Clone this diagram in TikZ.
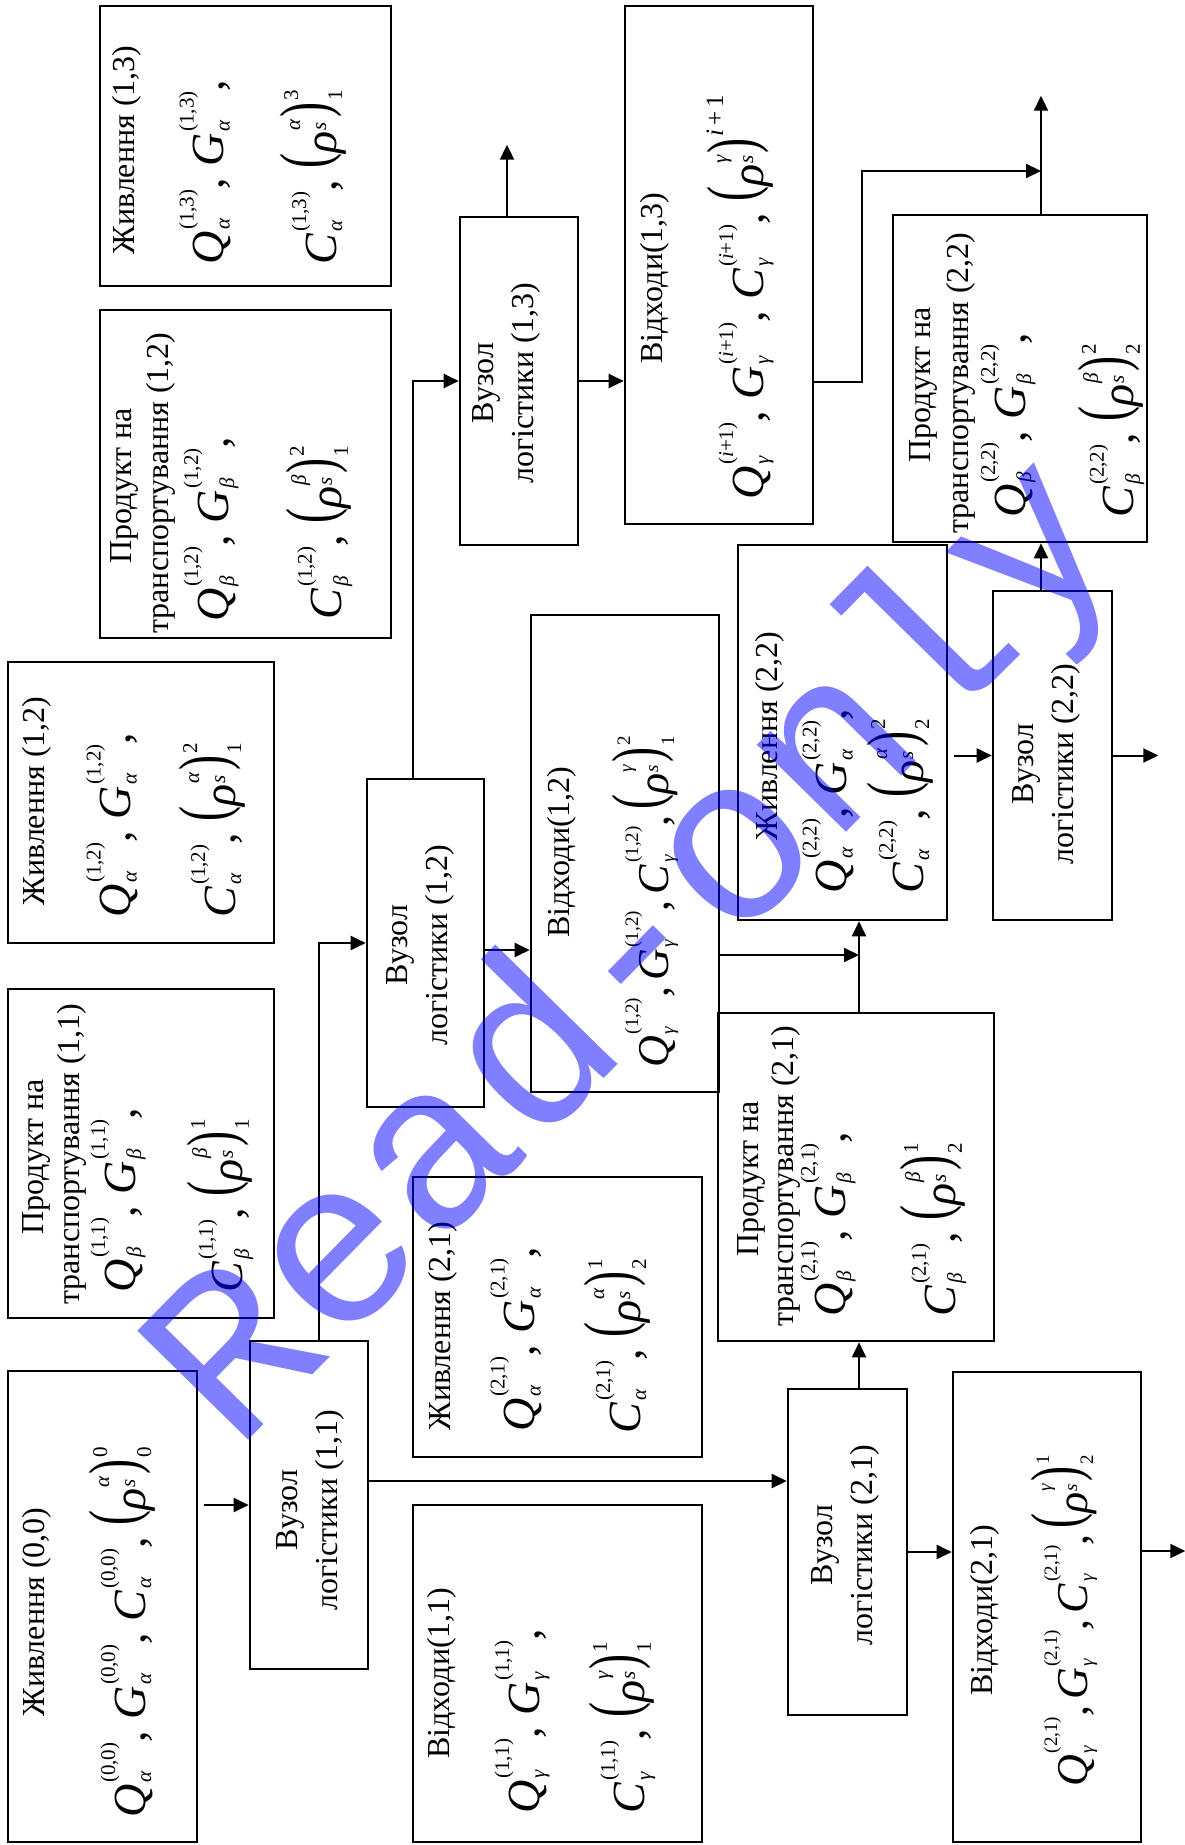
\documentclass[tikz,border=0pt]{standalone}
\usepackage{fontspec}
\setmainfont{Liberation Serif}
\newfontfamily\wmfont{Liberation Mono}
\usetikzlibrary{arrows.meta,fit}
\newcommand\szsize{10.5}
\newcommand\sep{,\ }
\newcommand\sz{\fontsize{\szsize}{\szsize}\selectfont}
\newcommand\mvar[3]{\textit{#1}\kern0.8pt\rlap{\raisebox{-3pt}{\sz\itshape #2}}\raisebox{15pt}{\sz #3}}
\newcommand\mylp{\raisebox{4.3pt}{\resizebox*{7.5pt}{31pt}{(}}}
\newcommand\myrp{\raisebox{4.3pt}{\resizebox*{7.5pt}{31pt}{)}}}
\newcommand\rhocore[1]{\mylp\textit{ρ}\kern0.5pt\rlap{\raisebox{5pt}{\sz\itshape s}}\raisebox{18pt}{\sz\itshape #1}\kern1pt\myrp\kern1pt}
\newcommand\mrho[3]{\rhocore{#1}\rlap{\raisebox{19pt}{\sz #2}}\raisebox{-3pt}{\sz #3}}
\begin{document}
\begin{tikzpicture}[x=0.5pt,y=-0.5pt,
  box/.style={draw, line width=1.3pt, inner sep=0pt},
  arr/.style={line width=1pt, -{Triangle[length=7.5pt,width=7pt]}},
  ttl/.style={rotate=90, inner sep=0pt, font=\fontsize{16}{20}\selectfont, align=center},
  mth/.style={rotate=90, inner sep=0pt, anchor=west, font=\fontsize{23}{27}\selectfont},
  tight/.style={font=\fontsize{22}{26}\selectfont\def\szsize{9.5}\def\sep{,\kern3pt}},
  wmark/.style={rotate=45.5, inner sep=0pt, text=blue, opacity=0.5, font=\wmfont\fontsize{118}{118}\selectfont}
]
\useasboundingbox[fill=white] (0,0) rectangle (1184,1845);

% boxes
\node[box, fit={(8,1371)(197,1842)}] (A) {};
\node[box, fit={(250,1341)(368,1669)}] (B) {};
\node[box, fit={(8,989)(274,1318)}] (C) {};
\node[box, fit={(8,662)(274,943)}] (D) {};
\node[box, fit={(100,310)(391,638)}] (E) {};
\node[box, fit={(100,6)(391,286)}] (F) {};
\node[box, fit={(367,779)(484,1107)}] (G) {};
\node[box, fit={(413,1177)(702,1457)}] (H) {};
\node[box, fit={(413,1505)(702,1842)}] (I) {};
\node[box, fit={(531,615)(719,1092)}] (J) {};
\node[box, fit={(460,217)(578,545)}] (K) {};
\node[box, fit={(625,6)(813,524)}] (L) {};
\node[box, fit={(718,1013)(994,1341)}] (M) {};
\node[box, fit={(788,1389)(907,1715)}] (N) {};
\node[box, fit={(953,1372)(1141,1842)}] (O) {};
\node[box, fit={(738,545)(947,920)}] (P) {};
\node[box, fit={(993,591)(1112,920)}] (Q) {};
\node[box, fit={(893,215)(1147,542)}] (R) {};

% texts
\node[ttl] (A-t) at (37,1612) {Живлення (0,0)};
\node[mth] (A-m) at (122,1818) {\mvar{Q}{α}{(0,0)}\sep\mvar{G}{α}{(0,0)}\sep\mvar{C}{α}{(0,0)}\sep\mrho{α}{0}{0}};

\node[ttl] (B-t) at (310,1510) {Вузол\\логістики (1,1)};

\node[ttl] (C-t1) at (36,1157) {Продукт на};
\node[ttl] (C-t2) at (72,1154) {транспортування (1,1)};
\node[mth] (C-m1) at (118,1293) {\mvar{Q}{β}{(1,1)}\sep\mvar{G}{β}{(1,1)},};
\node[mth] (C-m2) at (220,1293) {\mvar{C}{β}{(1,1)}\sep\mrho{β}{1}{1}};

\node[ttl] (D-t) at (37,801) {Живлення (1,2)};
\node[mth] (D-m1) at (112,918) {\mvar{Q}{α}{(1,2)}\sep\mvar{G}{α}{(1,2)},};
\node[mth] (D-m2) at (212,918) {\mvar{C}{α}{(1,2)}\sep\mrho{α}{2}{1}};

\node[ttl] (E-t1) at (124,486) {Продукт на};
\node[ttl] (E-t2) at (161,483) {транспортування (1,2)};
\node[mth] (E-m1) at (211,622) {\mvar{Q}{β}{(1,2)}\sep\mvar{G}{β}{(1,2)},};
\node[mth] (E-m2) at (319,620) {\mvar{C}{β}{(1,2)}\sep\mrho{β}{2}{1}};

\node[ttl] (F-t) at (127,150) {Живлення (1,3)};
\node[mth] (F-m1) at (205,265) {\mvar{Q}{α}{(1,3)}\sep\mvar{G}{α}{(1,3)},};
\node[mth] (F-m2) at (313,265) {\mvar{C}{α}{(1,3)}\sep\mrho{α}{3}{1}};

\node[ttl] (G-t) at (420,945) {Вузол\\логістики (1,2)};

\node[ttl] (H-t) at (443,1326) {Живлення (2,1)};
\node[mth] (H-m1) at (516,1432) {\mvar{Q}{α}{(2,1)}\sep\mvar{G}{α}{(2,1)},};
\node[mth] (H-m2) at (617,1434) {\mvar{C}{α}{(2,1)}\sep\mrho{α}{1}{2}};

\node[ttl] (I-t) at (442,1673) {Відходи(1,1)};
\node[mth] (I-m1) at (522,1814) {\mvar{Q}{γ}{(1,1)}\sep\mvar{G}{γ}{(1,1)},};
\node[mth] (I-m2) at (622,1814) {\mvar{C}{γ}{(1,1)}\sep\mrho{γ}{1}{1}};

\node[ttl] (J-t) at (562,852) {Відходи(1,2)};
\node[mth, tight] (J-m) at (645,1068) {\mvar{Q}{γ}{(1,2)}\sep\mvar{G}{γ}{(1,2)}\sep\mvar{C}{γ}{(1,2)}\sep\mrho{γ}{2}{1}};

\node[ttl] (K-t) at (506,383) {Вузол\\логістики (1,3)};

\node[ttl] (L-t) at (655,278) {Відходи(1,3)};
\node[mth] (L-m) at (740,500) {\mvar{Q}{γ}{(\textit{i}+1)}\sep\mvar{G}{γ}{(\textit{i}+1)}\sep\mvar{C}{γ}{(\textit{i}+1)}\sep\rhocore{γ}\raisebox{20pt}{\fontsize{12.5}{12.5}\selectfont\textit{i}\,+\,1}};

\node[ttl] (M-t1) at (751,1179) {Продукт на};
\node[ttl] (M-t2) at (786,1176) {транспортування (2,1)};
\node[mth] (M-m1) at (828,1317) {\mvar{Q}{β}{(2,1)}\sep\mvar{G}{β}{(2,1)},};
\node[mth] (M-m2) at (933,1317) {\mvar{C}{β}{(2,1)}\sep\mrho{β}{1}{2}};

\node[ttl] (N-t) at (845,1545) {Вузол\\логістики (2,1)};

\node[ttl] (O-t) at (985,1610) {Відходи(2,1)};
\node[mth, tight] (O-m) at (1064,1787) {\mvar{Q}{γ}{(2,1)}\sep\mvar{G}{γ}{(2,1)}\sep\mvar{C}{γ}{(2,1)}\sep\mrho{γ}{1}{2}};

\node[ttl] (P-t) at (770,736) {Живлення (2,2)};
\node[mth] (P-m1) at (828,894) {\mvar{Q}{α}{(2,2)}\sep\mvar{G}{α}{(2,2)},};
\node[mth] (P-m2) at (900,894) {\mvar{C}{α}{(2,2)}\sep\mrho{α}{2}{2}};

\node[ttl] (Q-t) at (1046,764) {Вузол\\логістики (2,2)};

\node[ttl] (R-t1) at (923,385) {Продукт на};
\node[ttl] (R-t2) at (961,383) {транспортування (2,2)};
\node[mth] (R-m1) at (1008,518) {\mvar{Q}{β}{(2,2)}\sep\mvar{G}{β}{(2,2)},};
\node[mth] (R-m2) at (1111,518) {\mvar{C}{β}{(2,2)}\sep\mrho{β}{2}{2}};

% free ends and junctions
\coordinate (bend) at (862,171);
\coordinate (mtop) at ([xshift=1.5pt]M.north);
\coordinate (outQ) at ([xshift=22.5pt]Q.east);
\coordinate (outR) at ([xshift=10.5pt,yshift=59pt]R.north);
\coordinate (outK) at ([xshift=-6pt,yshift=35.5pt]K.north);
\coordinate (outO) at ([xshift=21.5pt,yshift=28pt]O.east);

% connectors
\draw[arr] ([xshift=3pt]A.east |- B.west) -- (B.west);
\draw[arr] ([xshift=5pt]B.north) |- (G.west);
\draw[arr] ([yshift=12pt]B.east) -- ([yshift=12pt]B.east -| N.west);
\draw[arr] ([xshift=-6.25pt]G.north) |- (K.west);
\draw[arr] ([yshift=-3.5pt]G.east) -- ([yshift=-3.5pt]G.east -| J.west);
\draw[arr] ([yshift=-50.75pt]J.east) -- ([yshift=-50.75pt]J.east -| mtop);
\draw[arr] (mtop) -- (mtop |- P.south);
\draw[arr] ([xshift=3pt]P.east |- Q.west) -- (Q.west);
\draw[arr] (Q.east) -- (outQ);
\draw[arr] ([xshift=-5.75pt]Q.north) -- ([xshift=-5.75pt]Q.north |- R.south);
\draw[arr] ([xshift=10.5pt]R.north) -- (outR);
\draw[arr] ([yshift=-58.5pt]L.east) -| (bend) -- (bend -| outR);
\draw[arr] ([xshift=-6pt]K.north) -- (outK);
\draw[arr] (K.east) -- (K.east -| L.west);
\draw[arr] ([xshift=5.75pt]N.north) -- ([xshift=5.75pt]N.north |- M.south);
\draw[arr] (N.east) -- (N.east -| O.west);
\draw[arr] ([yshift=28pt]O.east) -- (outO);

% watermark
\node[wmark] (wm) at (639,956) {Read-only};
\end{tikzpicture}
\end{document}
